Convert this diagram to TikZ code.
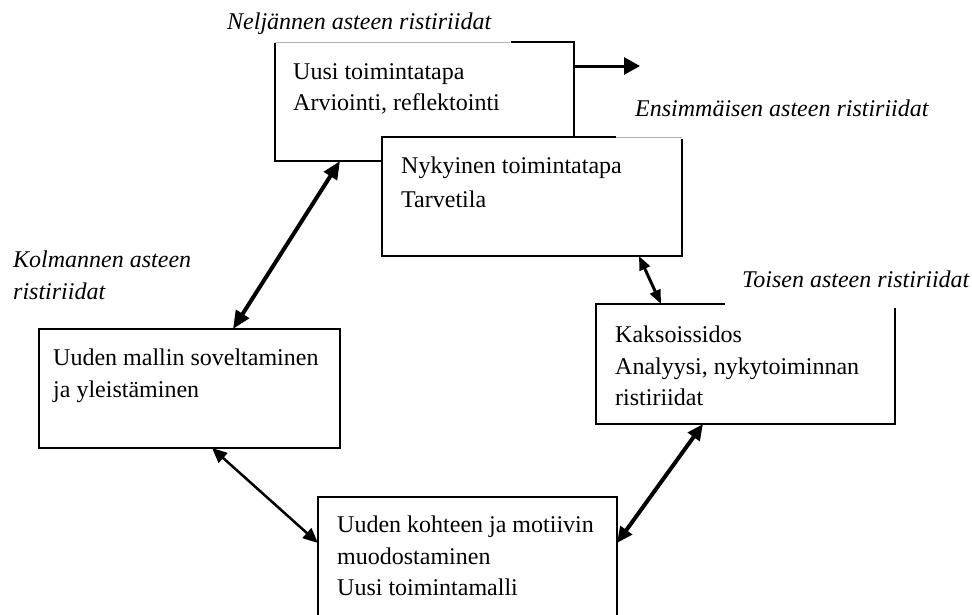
\documentclass[tikz,border=0pt]{standalone}
\usepackage{fontspec}
\setmainfont{Liberation Serif}
\usetikzlibrary{arrows.meta,calc}
\begin{document}
\begin{tikzpicture}[x=1pt,y=-1pt,
  box/.style={draw=black,line width=1.3pt,fill=white,inner sep=0pt,outer sep=0pt,anchor=north west},
  btext/.style={inner sep=0pt,anchor=north west,align=left,font=\fontsize{24}{31.5}\selectfont},
  lbl/.style={fill=white,anchor=base west,font=\fontsize{24}{32}\selectfont\itshape,text height=17pt,text depth=5pt},
  remnant/.style={draw=gray!60,line width=0.6pt},
  dbl/.style={line width=#1,draw=black},
]
\useasboundingbox (0,0) rectangle (972,614);
% boxes
\node[box,minimum width=299pt,minimum height=119pt] (b1) at (275,42) {};
\node[box,minimum width=300pt,minimum height=119pt] (b2) at (382,137) {};
\node[box,minimum width=299pt,minimum height=120pt] (b3) at (596,304) {};
\node[box,minimum width=301pt,minimum height=119pt] (b4) at (39,329) {};
\node[box,minimum width=299pt,minimum height=143pt] (b5) at (318,497) {};
% box texts
\node[btext] (t1) at (293,63) {Uusi toimintatapa\\Arviointi, reflektointi};
\node[btext,font=\fontsize{24}{34}\selectfont] (t2) at (401,157) {Nykyinen toimintatapa\\Tarvetila};
\node[btext] (t3) at (615,326) {Kaksoissidos\\Analyysi, nykytoiminnan\\ristiriidat};
\node[btext] (t4) at (53,349) {Uuden mallin soveltaminen\\ja yleistäminen};
\node[btext] (t5) at (337,516) {Uuden kohteen ja motiivin\\muodostaminen\\Uusi toimintamalli};
% labels
\node[lbl,inner xsep=20pt,inner ysep=9pt] (l4) at (207,29) {Neljännen asteen ristiriidat};
\node[lbl,inner xsep=19pt,inner ysep=18pt] (l1) at (616,116) {Ensimmäisen asteen ristiriidat};
\node[lbl,inner xsep=17pt,inner ysep=16pt] (l2) at (725,287) {Toisen asteen ristiriidat};
\node[inner sep=0pt,anchor=north west,align=left,font=\fontsize{24}{32}\selectfont\itshape] (l3) at (13,251) {Kolmannen asteen\\ristiriidat};
% thin remnants of covered borders
\draw[remnant] (b1.north west) -- ($(b1.north west)+(235,0)$);
\draw[remnant] ($(b2.north west)+(234,0)$) -- (b2.north east);
% connectors
\draw[dbl=4pt,{Triangle[length=18pt,width=15pt]}-{Triangle[length=18pt,width=15pt]}]
  ($(b1.south west)+(65,0)$) -- ($(b4.north west)+(194,0)$);
\draw[dbl=3pt,{Triangle[length=14pt,width=11pt]}-{Triangle[length=14pt,width=11pt]}]
  ($(b2.south west)+(257,0)$) -- ($(b3.north west)+(65,0)$);
\draw[dbl=2.5pt,{Triangle[length=15pt,width=13pt]}-{Triangle[length=15pt,width=13pt]}]
  ($(b4.south west)+(173,0)$) -- ($(b5.north west)+(0,46)$);
\draw[dbl=4pt,{Triangle[length=16pt,width=14pt]}-{Triangle[length=16pt,width=14pt]}]
  ($(b3.south west)+(107,0)$) -- ($(b5.north east)+(0,46)$);
\coordinate (out) at (640,66);
\draw[dbl=3pt,-{Triangle[length=16pt,width=17pt]}] ($(b1.north east)+(0,24)$) -- (out);
\end{tikzpicture}
\end{document}
